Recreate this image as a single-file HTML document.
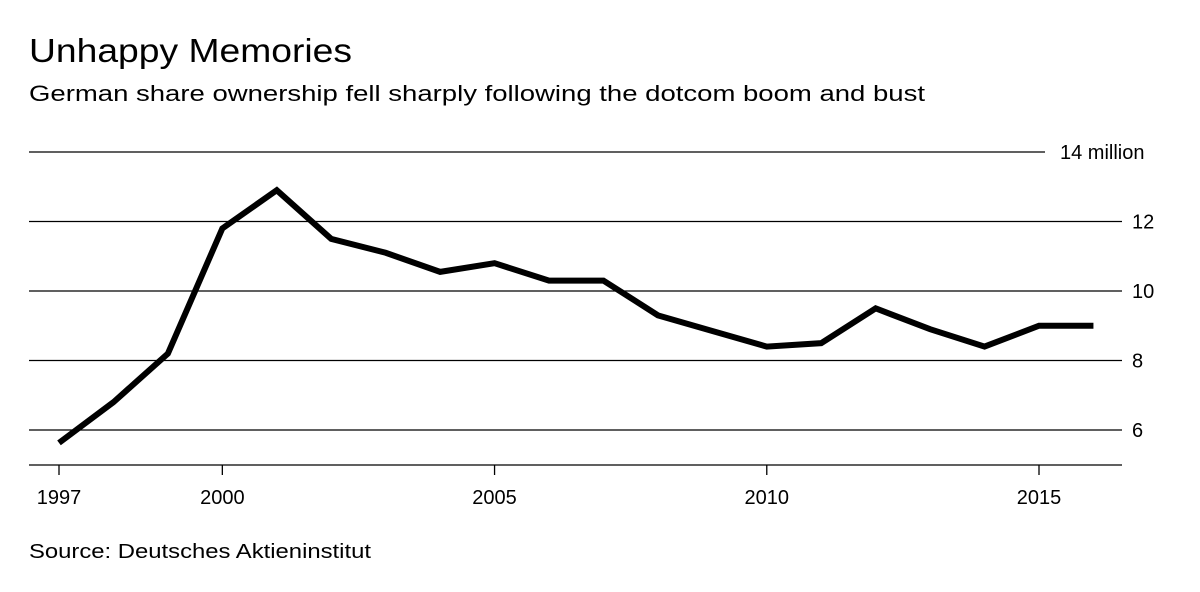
<!DOCTYPE html>
<html><head><meta charset="utf-8"><style>
body{margin:0;background:#fff;font-family:"Liberation Sans",sans-serif;}
svg text{font-family:"Liberation Sans",sans-serif;fill:#000;}
</style></head><body>
<svg width="1200" height="587">
<text x="29" y="62" font-size="33" textLength="323" lengthAdjust="spacingAndGlyphs">Unhappy Memories</text>
<text x="29" y="101" font-size="22" textLength="896" lengthAdjust="spacingAndGlyphs">German share ownership fell sharply following the dotcom boom and bust</text>
<g id="grid"></g>
<g id="xaxis"></g>
<path id="line" fill="none" stroke="#000" stroke-width="6" stroke-linejoin="miter"></path>
<text x="29" y="558" font-size="20" textLength="342" lengthAdjust="spacingAndGlyphs">Source: Deutsches Aktieninstitut</text>
</svg>
<script>
const years=[1997,1998,1999,2000,2001,2002,2003,2004,2005,2006,2007,2008,2009,2010,2011,2012,2013,2014,2015,2016];
const owners=[5.63,6.8,8.2,11.8,12.9,11.5,11.1,10.55,10.8,10.3,10.3,9.3,8.85,8.4,8.5,9.5,8.9,8.4,9.0,9.0];
const yTicks=[6,8,10,12,14];
const yTickLabels=["6","8","10","12","14 million"];
const xTicks=[1997,2000,2005,2010,2015];
const NS="http://www.w3.org/2000/svg";
const xs=y=>59+(y-1997)*(1039-59)/18;
const ys=v=>430-(v-6)*(430-152)/8;
function mk(t,a){const e=document.createElementNS(NS,t);for(const k in a)e.setAttribute(k,a[k]);return e;}
const g=document.getElementById('grid');
yTicks.forEach((v,i)=>{
 const last=i===yTicks.length-1;
 const l=mk('line',{x1:29,x2:last?1045:1122,y1:ys(v),y2:ys(v),stroke:'#000','stroke-width':1.3});
 
 
 g.appendChild(l);
 const t=mk('text',{x:last?1060:1132,y:ys(v)+7,'font-size':20});
 t.textContent=yTickLabels[i];
 
 
 g.appendChild(t);
});
const xa=document.getElementById('xaxis');
const base=mk('line',{x1:29,x2:1122,y1:465,y2:465,stroke:'#000','stroke-width':1.3});


xa.appendChild(base);
xTicks.forEach(y=>{
 const tk=mk('line',{x1:xs(y),x2:xs(y),y1:465,y2:475,stroke:'#000','stroke-width':1.3});
 
 
 xa.appendChild(tk);
 const t=mk('text',{x:xs(y),y:504,'font-size':20,'text-anchor':'middle'});
 t.textContent=y;
 
 
 xa.appendChild(t);
});
document.getElementById('line').setAttribute('d',years.map((y,i)=>(i?'L':'M')+xs(y)+','+ys(owners[i])).join(' '));
</script>
</body></html>
